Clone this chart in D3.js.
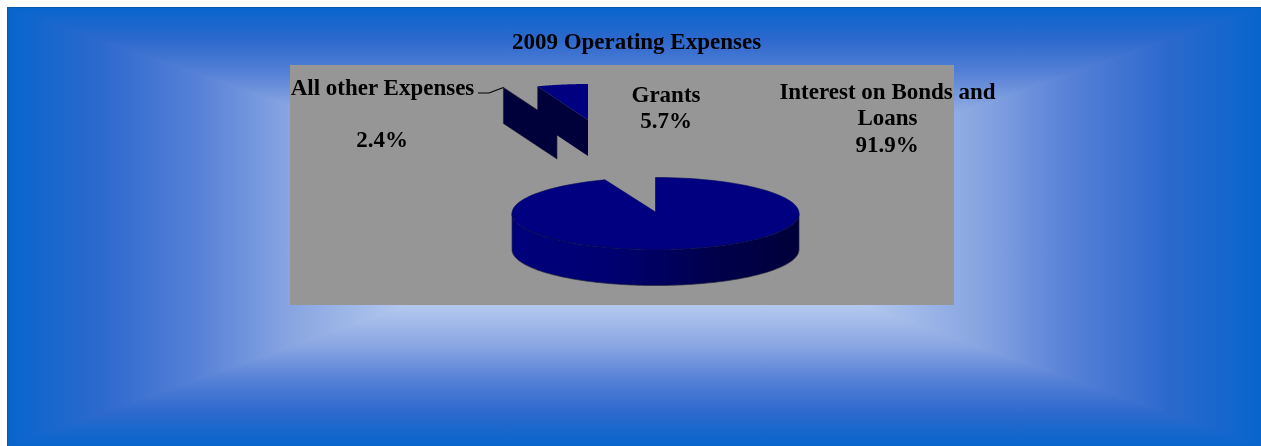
<!DOCTYPE html>
<html>
<head>
<meta charset="utf-8">
<script src="https://cdn.jsdelivr.net/npm/d3@7"></script>
<style>
html, body { margin: 0; padding: 0; background: #fff; }
svg { display: block; }
text { font-family: "Liberation Serif", serif; font-weight: bold; fill: #000; }
</style>
</head>
<body>
<svg id="chart-svg" width="1261" height="446"></svg>
<script>
const chartTitle = '2009 Operating Expenses';
const categories = ['Interest on Bonds and Loans', 'All other Expenses', 'Grants'];
const expenseValues = [91.9, 2.4, 5.7];

const svg = d3.select('#chart-svg');
const defs = svg.append('defs');

// background is a box gradient, four triangles that meet in the middle
const box = {left: 7, top: 7, right: 1261, bottom: 446};
const mid = {x: 634, y: 226};
const bgStops = [[0, '#0765cc'], [0.15, '#2d69cd'], [0.3, '#5580d6'], [0.45, '#88a5e1'], [0.64, '#b4c9ee'], [1, '#ffffff']];

function addGradient(id, x1, y1, x2, y2, stops) {
    const g = defs.append('linearGradient')
        .attr('id', id)
        .attr('gradientUnits', 'userSpaceOnUse')
        .attr('x1', x1).attr('y1', y1).attr('x2', x2).attr('y2', y2);
    stops.forEach(s => g.append('stop').attr('offset', s[0]).attr('stop-color', s[1]));
}
addGradient('bg-top', 0, box.top, 0, mid.y, bgStops);
addGradient('bg-bottom', 0, box.bottom, 0, mid.y, bgStops);
addGradient('bg-left', box.left, 0, mid.x, 0, bgStops);
addGradient('bg-right', box.right, 0, mid.x, 0, bgStops);

const tri = [
    ['bg-top', [[box.left, box.top], [box.right, box.top]]],
    ['bg-right', [[box.right, box.top], [box.right, box.bottom]]],
    ['bg-bottom', [[box.right, box.bottom], [box.left, box.bottom]]],
    ['bg-left', [[box.left, box.bottom], [box.left, box.top]]]
];
tri.forEach(t => {
    svg.append('polygon')
        .attr('points', [t[1][0], t[1][1], [mid.x, mid.y]].map(p => p.join(',')).join(' '))
        .attr('fill', `url(#${t[0]})`)
        .attr('shape-rendering', 'crispEdges');
});
svg.append('line').attr('x1', 7).attr('y1', 7.5).attr('x2', 1261).attr('y2', 7.5).attr('stroke', '#0b57a8');
svg.append('line').attr('x1', 7.5).attr('y1', 7).attr('x2', 7.5).attr('y2', 446).attr('stroke', '#0b57a8');

// plot area
svg.append('rect').attr('x', 290).attr('y', 65).attr('width', 664).attr('height', 240).attr('fill', '#969696');

// the reference is a resized bitmap, a small blur takes the edges down to the same softness
defs.append('filter').attr('id', 'soft')
    .attr('x', '-5%').attr('y', '-5%').attr('width', '110%').attr('height', '110%')
    .append('feGaussianBlur').attr('stdDeviation', 0.35);
const chart = svg.append('g').attr('filter', 'url(#soft)');

// pie geometry
const pie = {cx: 655.5, cy: 213.5, rx: 143.5, ry: 36, depth: 36};
const arcs = d3.pie().sort(null).startAngle(0)(expenseValues);
const gapStart = arcs[0].endAngle;

// pie angle to ellipse angle, the picture foreshortens the cut out part
const angleScale = d3.scaleLinear()
    .domain([0, gapStart, 2 * Math.PI])
    .range([0, 2 * Math.PI - 0.36, 2 * Math.PI]);

function rimPoint(a, o) {
    const t = angleScale(a);
    return [o.x + pie.rx * Math.sin(t), o.y - pie.ry * Math.cos(t)];
}
function rim(a0, a1, o) {
    const n = 120;
    return d3.range(n + 1).map(i => rimPoint(a0 + (a1 - a0) * i / n, o));
}
const line = d3.line();

addGradient('wall-main', pie.cx - pie.rx, 0, pie.cx + pie.rx, 0,
    [[0, '#00007c'], [0.35, '#000070'], [0.7, '#00004c'], [1, '#00003a']]);

const center = {x: pie.cx, y: pie.cy - 1.5};
const grantsCenter = {x: center.x - 67.5, y: center.y - 92};
const otherCenter = {x: center.x - 98.5, y: center.y - 89};

// main slice wall, only the front half shows
const front = d3.range(121).map(i => {
    const t = Math.PI / 2 + Math.PI * i / 120;
    return [pie.cx + pie.rx * Math.sin(t), pie.cy - pie.ry * Math.cos(t)];
});
const frontLow = front.map(p => [p[0], p[1] + pie.depth]).reverse();
chart.append('path')
    .attr('d', line(front.concat(frontLow)) + 'Z')
    .attr('fill', 'url(#wall-main)')
    .attr('stroke', '#2a2a3c')
    .attr('stroke-width', 0.7);

// main slice top
chart.append('path')
    .attr('d', line([[center.x, center.y]].concat(rim(0, gapStart, {x: pie.cx, y: pie.cy}))) + 'Z')
    .attr('fill', '#000080')
    .attr('stroke', '#00005a')
    .attr('stroke-width', 0.6);

// exploded slices, the cut wall of each and the grants top face
function cutWall(o, extra) {
    const p = rimPoint(gapStart, o);
    const left = [p[0] - extra, p[1] - extra * 0.6];
    return [[o.x, o.y], left, [left[0], left[1] + pie.depth], [o.x, o.y + pie.depth]];
}
chart.append('path')
    .attr('d', line(cutWall(otherCenter, 3)) + 'Z')
    .attr('fill', '#00003a')
    .attr('stroke', '#1a1a30')
    .attr('stroke-width', 0.6);
chart.append('path')
    .attr('d', line(cutWall(grantsCenter, 0)) + 'Z')
    .attr('fill', '#00003a');
chart.append('path')
    .attr('d', line([[grantsCenter.x, grantsCenter.y]].concat(rim(gapStart, 2 * Math.PI, grantsCenter))) + 'Z')
    .attr('fill', '#000080');

// leader line of the small slice
const leader = cutWall(otherCenter, 3)[1];
chart.append('path')
    .attr('d', d3.line()([[478, 93], [489, 93], [leader[0], leader[1]]]))
    .attr('fill', 'none')
    .attr('stroke', '#000')
    .attr('stroke-width', 1.2);

// text
const pct = d => d3.format('.1f')(d) + '%';
function label(txt, x, y, size) {
    chart.append('text')
        .attr('x', x).attr('y', y)
        .attr('text-anchor', 'middle')
        .style('font-size', (size || 23) + 'px')
        .text(txt);
}
label(chartTitle, 636.5, 49);
label(categories[1], 382.5, 95);
label(pct(expenseValues[1]), 382, 147);
label(categories[2], 666, 102);
label(pct(expenseValues[2]), 666, 128);
label('Interest on Bonds and', 887.5, 99);
label('Loans', 887.5, 125);
label(pct(expenseValues[0]), 887, 152);
</script>
</body>
</html>
